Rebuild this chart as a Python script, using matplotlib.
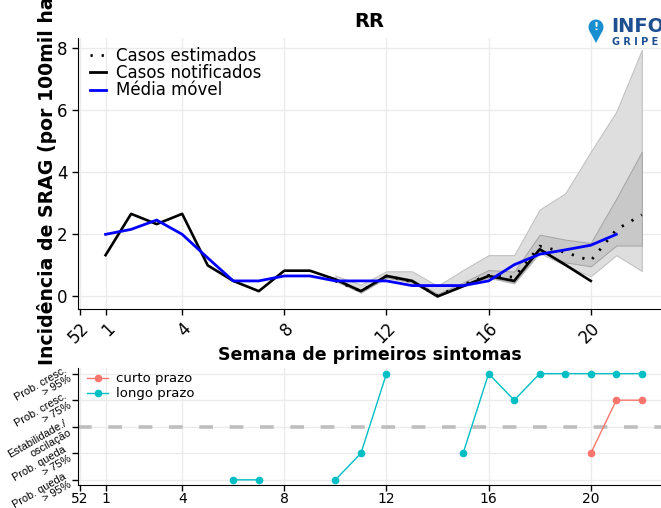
import numpy as np
import matplotlib
matplotlib.use('Agg')
import matplotlib.pyplot as plt
from matplotlib.lines import Line2D
from matplotlib.patches import Circle, Polygon

# week labels: index 0 is week 52 of previous year, then 1..22
tick_pos = [0, 1, 4, 8, 12, 16, 20]
tick_labels = ['52', '1', '4', '8', '12', '16', '20']

# Casos notificados (weeks 1-20)
notif_weeks = np.arange(1, 21)
notificados = [1.33, 2.66, 2.33, 2.66, 1.0, 0.5, 0.17, 0.83, 0.83, 0.55,
               0.17, 0.66, 0.5, 0.0, 0.33, 0.66, 0.5, 1.52, 1.02, 0.5]

# Media movel (weeks 1-21)
mm_weeks = np.arange(1, 22)
media_movel = [2.0, 2.16, 2.46, 2.0, 1.24, 0.5, 0.5, 0.66, 0.66, 0.5, 0.5,
               0.5, 0.35, 0.35, 0.35, 0.5, 1.02, 1.36, 1.5, 1.65, 2.0]

# Casos estimados and intervals (weeks 10-22)
est_weeks = np.arange(10, 23)
estimados = [0.5, 0.17, 0.66, 0.48, 0.02, 0.38, 0.68, 0.62, 1.62, 1.42, 1.15, 2.15, 2.63]
ic95_lo = [0.5, 0.12, 0.6, 0.44, 0.0, 0.32, 0.6, 0.42, 1.4, 1.0, 0.65, 1.33, 0.82]
ic95_hi = [0.67, 0.38, 0.81, 0.81, 0.34, 0.85, 1.33, 1.33, 2.8, 3.32, 4.66, 5.95, 7.94]
ic50_lo = [0.5, 0.14, 0.62, 0.46, 0.01, 0.34, 0.62, 0.45, 1.45, 1.1, 0.97, 1.64, 1.64]
ic50_hi = [0.55, 0.22, 0.7, 0.55, 0.08, 0.45, 0.85, 0.8, 1.99, 1.83, 1.72, 3.15, 4.66]

# Tendencia (weeks 1-22), levels -2..2
tend_weeks = np.arange(1, 23)
nan = np.nan
longo_prazo = [nan, nan, nan, nan, nan, -2, -2, nan, nan, -2, -1, 2,
               nan, nan, -1, 2, 1, 2, 2, 2, 2, 2]
curto_prazo = [nan] * 19 + [-1, 1, 1]
tend_labels = ['Prob. queda\n> 95%', 'Prob. queda\n> 75%', 'Estabilidade./\noscilação',
               'Prob. cresc.\n> 75%', 'Prob. cresc.\n> 95%']

grid_c = '#ebebeb'
fig = plt.figure(figsize=(6.61, 5.08), dpi=100)
ax = fig.add_axes([0.118, 0.392, 0.882, 0.533])
ax2 = fig.add_axes([0.118, 0.045, 0.882, 0.231])

xlim = (-0.08, 22.75)

# top panel
ax.fill_between(est_weeks, ic95_lo, ic95_hi, facecolor='#dedede', edgecolor='#c2c2c2', lw=0.8, zorder=2)
ax.fill_between(est_weeks, ic50_lo, ic50_hi, facecolor='#c8c8c8', edgecolor='#a8a8a8', lw=0.8, zorder=3)
ax.plot(notif_weeks, notificados, color='black', lw=1.9, zorder=4)
ax.plot(est_weeks, estimados, color='black', lw=2.0, linestyle=(0, (0.8, 3.2)), zorder=5)
ax.plot(mm_weeks, media_movel, color='#0000ff', lw=2.0, zorder=6)

ax.set_xlim(xlim)
ax.set_ylim(-0.4, 8.32)
ax.set_yticks([0, 2, 4, 6, 8])
ax.set_xticks(tick_pos)
ax.set_xticklabels(tick_labels, rotation=45, ha='right', va='top', rotation_mode='anchor')
ax.tick_params(labelsize=12, length=4, width=1, colors='black')
ax.grid(True, color=grid_c, lw=1)
ax.set_axisbelow(True)
for s in ['top', 'right']:
    ax.spines[s].set_visible(False)
ax.set_title('RR', fontsize=14, fontweight='bold', pad=8)

handles = [Line2D([], [], color='black', lw=2, linestyle=(0, (0.8, 3.2))),
           Line2D([], [], color='black', lw=2),
           Line2D([], [], color='#0000ff', lw=2)]
ax.legend(handles, ['Casos estimados', 'Casos notificados', 'Média móvel'],
          loc='upper left', bbox_to_anchor=(0.0, 1.01), frameon=False, fontsize=12,
          handlelength=1.0, handletextpad=0.6, labelspacing=-0.05, borderaxespad=0.3)

fig.text(0.071, 0.281, 'Incidência de SRAG (por 100mil habitantes)', rotation=90,
         ha='center', va='bottom', fontsize=13.6, fontweight='bold')
fig.text(0.559, 0.301, 'Semana de primeiros sintomas', ha='center', va='center',
         fontsize=12.5, fontweight='bold')

# logo (InfoGripe)
ax_logo = fig.add_axes([0, 0, 1, 1], facecolor='none')
ax_logo.set_xlim(0, 661)
ax_logo.set_ylim(508, 0)
ax_logo.axis('off')
ax_logo.add_patch(Circle((596, 27), 7.5, color='#1a8fd0', lw=0))
ax_logo.add_patch(Polygon([[589, 30], [603, 30], [596, 43]], closed=True, color='#1a8fd0', lw=0))
ax_logo.text(596, 27, '!', color='white', fontsize=8, fontweight='bold', ha='center', va='center')
ax_logo.text(611, 26, 'INFO', color='#1d4f91', fontsize=14, fontweight='bold', ha='left', va='center')
ax_logo.text(612, 42, 'G R I P E', color='#1d4f91', fontsize=7, fontweight='bold', ha='left', va='center')

# bottom panel
ax2.axhline(0, color='#bebebe', lw=2.6, linestyle=(0, (3.8, 4.6)), zorder=2)
ax2.plot(tend_weeks, curto_prazo, color='#F8766D', lw=1.0, marker='o', ms=4.5, zorder=4)
ax2.plot(tend_weeks, longo_prazo, color='#00BFC4', lw=1.0, marker='o', ms=4.5, zorder=4)
ax2.set_xlim(xlim)
ax2.set_ylim(-2.2, 2.22)
ax2.set_xticks(tick_pos)
ax2.set_xticklabels(tick_labels)
ax2.set_yticks([-2, -1, 0, 1, 2])
ax2.set_yticklabels(tend_labels, rotation=30, ha='right', va='center', multialignment='right',
                    rotation_mode='anchor', family='Liberation Sans', fontsize=7.8,
                    linespacing=1.05)
ax2.tick_params(axis='x', labelsize=10, length=4, width=1, pad=1)
ax2.tick_params(axis='y', length=4, width=1, pad=3)
ax2.grid(True, color=grid_c, lw=1)
ax2.set_axisbelow(True)
for s in ['top', 'right']:
    ax2.spines[s].set_visible(False)
h2 = [Line2D([], [], color='#F8766D', lw=1, marker='o', ms=4.5),
      Line2D([], [], color='#00BFC4', lw=1, marker='o', ms=4.5)]
ax2.legend(h2, ['curto prazo', 'longo prazo'], loc='upper left', bbox_to_anchor=(0.0, 1.04),
           frameon=False, fontsize=9.5, handlelength=1.6, handletextpad=0.6, labelspacing=0.15,
           borderaxespad=0.3)

fig.savefig('out.png', dpi=100)
